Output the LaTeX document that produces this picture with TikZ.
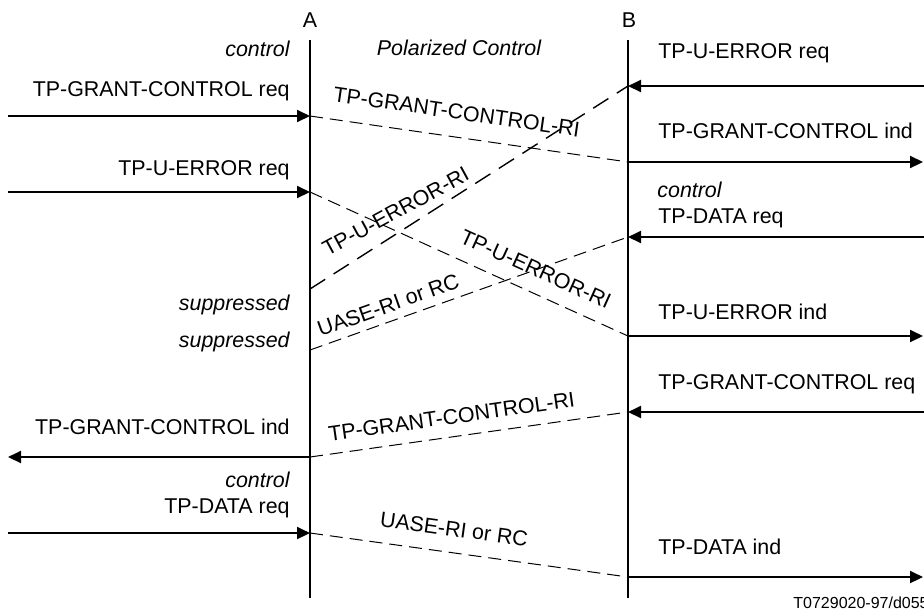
\documentclass[tikz,border=0pt]{standalone}
\usepackage{fontspec}
\setmainfont{Liberation Sans}
\usetikzlibrary{arrows.meta}

\begin{document}
\begin{tikzpicture}[x=0.5pt, y=-0.5pt,
      every node/.style={font=\fontsize{10.7}{12}\selectfont, inner sep=0pt},
      life/.style={line width=1pt},
      prim/.style={line width=1pt, -{Triangle[length=6.5pt, width=6pt]}},
      pdu/.style={line width=0.5pt, dash pattern=on 6.5pt off 3.5pt},
      longpdu/.style={line width=0.7pt, dash pattern=on 9pt off 5pt},
      usrL/.style={anchor=east},
      usrR/.style={anchor=west},
      state/.style={font=\fontsize{10.7}{12}\selectfont\itshape},
      pdulabel/.style={sloped, above=#1}]
  \useasboundingbox (0,0) rectangle (924,612);
  % lifelines
  \coordinate (Atop) at (310,40);  \coordinate (Abot) at (310,598);
  \coordinate (Btop) at (628,40);  \coordinate (Bbot) at (628,598);
  \node (A) at (310,20) {A};
  \node (B) at (629,20) {B};
  \draw [life] (Atop) -- (Abot);
  \draw [life] (Btop) -- (Bbot);
  \node [state] (polar) at (459,48) {Polarized Control};
  % events on the lifelines
  \coordinate (a1) at (310,116);  \coordinate (b1) at (628,86);
  \coordinate (a2) at (310,192);  \coordinate (b2) at (628,162);
  \coordinate (a3) at (310,289);  \coordinate (b3) at (628,237);
  \coordinate (a4) at (310,350);  \coordinate (b4) at (628,336);
  \coordinate (a5) at (310,457);  \coordinate (b5) at (628,412);
  \coordinate (a6) at (310,533);  \coordinate (b6) at (628,577);
  % users
  \coordinate (u1) at (8,116);    \coordinate (v1) at (926,86);
  \coordinate (u2) at (8,192);    \coordinate (v2) at (923,162);
  \coordinate (u5) at (8,457);    \coordinate (v3) at (926,237);
  \coordinate (u6) at (8,533);    \coordinate (v4) at (923,336);
  \coordinate (v5) at (926,412);  \coordinate (v6) at (923,577);

  % side A
  \node [state, usrL] (ctlA1) at (290,49) {control};
  \node [usrL] (reqA1) at (290,91) {TP-GRANT-CONTROL req};
  \node [usrL] (reqA2) at (290,170) {TP-U-ERROR req};
  \node [state, usrL] (supA1) at (290,305) {suppressed};
  \node [state, usrL] (supA2) at (290,342) {suppressed};
  \node [usrL] (indA5) at (290,427) {TP-GRANT-CONTROL ind};
  \node [state, usrL] (ctlA2) at (290,480) {control};
  \node [usrL] (reqA6) at (290,508) {TP-DATA req};
  \draw [prim] (u1) -- (a1);
  \draw [prim] (u2) -- (a2);
  \draw [prim] (a5) -- (u5);
  \draw [prim] (u6) -- (a6);

  % side B
  \node [usrR] (reqB1) at (658,53) {TP-U-ERROR req};
  \node [usrR] (indB2) at (658,131) {TP-GRANT-CONTROL ind};
  \node [state, usrR] (ctlB) at (657,190) {control};
  \node [usrR] (reqB3) at (658,218) {TP-DATA req};
  \node [usrR] (indB4) at (658,312) {TP-U-ERROR ind};
  \node [usrR] (reqB5) at (658,384) {TP-GRANT-CONTROL req};
  \node [usrR] (indB6) at (658,547) {TP-DATA ind};
  \draw [prim] (v1) -- (b1);
  \draw [prim] (b2) -- (v2);
  \draw [prim] (v3) -- (b3);
  \draw [prim] (b4) -- (v4);
  \draw [prim] (v5) -- (b5);
  \draw [prim] (b6) -- (v6);

  % PDUs
  \draw [pdu] (a1) -- node [pdulabel=8.5pt, pos=0.45] (pdu1) {TP-GRANT-CONTROL-RI} (b2);
  \draw [longpdu] (a3) -- node [pdulabel=5.5pt, pos=0.30, rotate=-4] (pdu2) {TP-U-ERROR-RI} (b1);
  \draw [pdu] (a2) -- node [pdulabel=7.5pt, pos=0.68] (pdu3) {TP-U-ERROR-RI} (b4);
  \draw [pdu] (a4) -- node [pdulabel=4pt, pos=0.263] (pdu4) {UASE-RI or RC} (b3);
  \draw [pdu] (a5) -- node [pdulabel=6pt, pos=0.454] (pdu5) {TP-GRANT-CONTROL-RI} (b5);
  \draw [pdu] (a6) -- node [pdulabel=7.75pt, pos=0.443] (pdu6) {UASE-RI or RC} (b6);

  \node [anchor=west, font=\fontsize{8}{9}\selectfont] (ref) at (793,603) {T0729020-97/d055};
\end{tikzpicture}
\end{document}
